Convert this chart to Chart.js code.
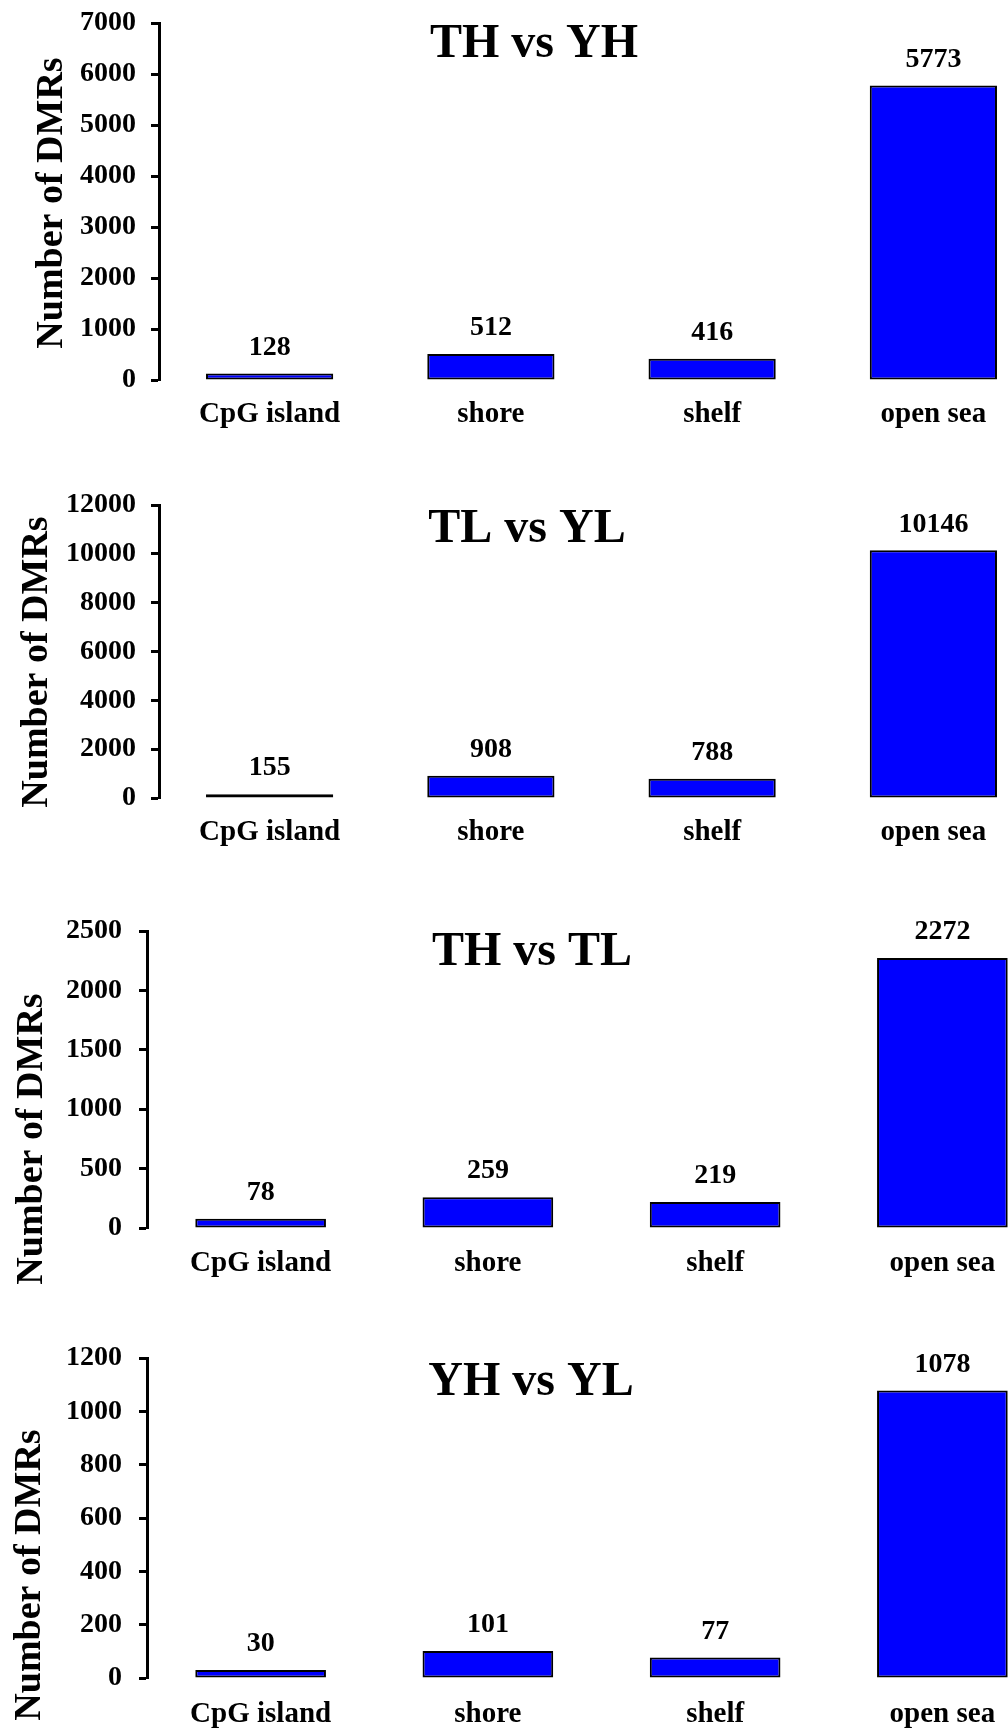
<!DOCTYPE html>
<html>
<head>
<meta charset="utf-8">
<script src="https://cdn.jsdelivr.net/npm/chart.js@4.4.1/dist/chart.umd.min.js"></script>
<style>
    html, body { margin: 0; padding: 0; background: #fff; overflow: hidden; }
    #wrap { position: relative; width: 1008px; height: 1732px; overflow: hidden; background: #fff; }
    canvas { position: absolute; left: 0; }
</style>
</head>
<body>
<div id="wrap">
    <canvas id="c1"></canvas>
    <canvas id="c2"></canvas>
    <canvas id="c3"></canvas>
    <canvas id="c4"></canvas>
</div>
<script>
// data
var categories = ['CpG island', 'shore', 'shelf', 'open sea'];
var thVsYh = [128, 512, 416, 5773];
var tlVsYl = [155, 908, 788, 10146];
var thVsTl = [78, 259, 219, 2272];
var yhVsYl = [30, 101, 77, 1078];
var panelTitles = ['TH vs YH', 'TL vs YL', 'TH vs TL', 'YH vs YL'];
var seriesList = [thVsYh, tlVsYl, thVsTl, yhVsYl];
var yMaxList = [7000, 12000, 2500, 1200];
var yStepList = [1000, 2000, 500, 200];
var yAxisTitle = 'Number of DMRs';

var FONT = "'Liberation Serif', 'Times New Roman', serif";
var CANVAS_W = 1060;

// layout of each panel (pixels, relative to panel top)
var panels = [
    { id: 'c1', top: 0,    height: 440, left: 159, right: 1044, plotTop: 23, plotBottom: 380, xPad: 17, tickPad: 15, titleX: 534, titleY: 57,  yTitleX: 62, yTitleY: 203 },
    { id: 'c2', top: 440,  height: 420, left: 159, right: 1044, plotTop: 65, plotBottom: 358, xPad: 17, tickPad: 15, titleX: 527, titleY: 102, yTitleX: 47, yTitleY: 222 },
    { id: 'c3', top: 860,  height: 430, left: 147, right: 1056, plotTop: 71, plotBottom: 368, xPad: 18, tickPad: 17, titleX: 532, titleY: 105, yTitleX: 42, yTitleY: 279 },
    { id: 'c4', top: 1290, height: 442, left: 147, right: 1056, plotTop: 68, plotBottom: 388, xPad: 19, tickPad: 17, titleX: 531, titleY: 105, yTitleX: 40, yTitleY: 285 }
];

// value labels above bars
var valueLabels = {
    id: 'valueLabels',
    afterDatasetsDraw: function (chart) {
        var ctx = chart.ctx;
        var meta = chart.getDatasetMeta(0);
        var data = chart.data.datasets[0].data;
        ctx.save();
        ctx.font = 'bold 28px ' + FONT;
        ctx.fillStyle = '#000';
        ctx.textAlign = 'center';
        ctx.textBaseline = 'middle';
        meta.data.forEach(function (bar, i) {
            ctx.fillText(String(data[i]), bar.x, bar.y - 26);
        });
        ctx.restore();
    }
};

// panel title and rotated y title
var panelText = {
    id: 'panelText',
    afterDraw: function (chart, args, opts) {
        var ctx = chart.ctx;
        ctx.save();
        ctx.fillStyle = '#000';
        ctx.textAlign = 'center';
        ctx.textBaseline = 'alphabetic';
        ctx.font = 'bold 48px ' + FONT;
        ctx.fillText(opts.title, opts.titleX, opts.titleY);

        ctx.translate(opts.yTitleX, opts.yTitleY);
        ctx.rotate(-Math.PI / 2);
        ctx.font = 'bold 38px ' + FONT;
        ctx.fillText(opts.yTitle, 0, 0);
        ctx.restore();
    }
};

panels.forEach(function (p, k) {
    var canvas = document.getElementById(p.id);
    canvas.width = CANVAS_W;
    canvas.height = p.height;
    canvas.style.top = p.top + 'px';
    canvas.style.width = CANVAS_W + 'px';
    canvas.style.height = p.height + 'px';

    new Chart(canvas.getContext('2d'), {
        type: 'bar',
        data: {
            labels: categories,
            datasets: [{
                data: seriesList[k],
                backgroundColor: '#0000FF',
                borderColor: '#000',
                borderWidth: 2,
                borderSkipped: false,
                categoryPercentage: 1,
                barPercentage: 0.575
            }]
        },
        options: {
            responsive: false,
            animation: false,
            devicePixelRatio: 1,
            layout: {
                padding: { top: p.plotTop, bottom: 0, left: 0, right: CANVAS_W - p.right }
            },
            plugins: {
                legend: { display: false },
                tooltip: { enabled: false },
                panelText: {
                    title: panelTitles[k],
                    titleX: p.titleX,
                    titleY: p.titleY,
                    yTitle: yAxisTitle,
                    yTitleX: p.yTitleX,
                    yTitleY: p.yTitleY
                }
            },
            scales: {
                x: {
                    grid: { display: false, drawTicks: false },
                    border: { display: false },
                    ticks: {
                        color: '#000',
                        padding: p.xPad,
                        maxRotation: 0,
                        font: { family: FONT, size: 29, weight: 'bold' }
                    },
                    afterFit: function (scale) { scale.height = p.height - p.plotBottom; }
                },
                y: {
                    min: 0,
                    max: yMaxList[k],
                    grid: {
                        display: true,
                        drawOnChartArea: false,
                        drawTicks: true,
                        tickLength: 8,
                        tickWidth: 3,
                        tickColor: '#000'
                    },
                    border: { display: true, color: '#000', width: 3 },
                    ticks: {
                        stepSize: yStepList[k],
                        color: '#000',
                        padding: p.tickPad,
                        font: { family: FONT, size: 28, weight: 'bold' },
                        callback: function (value) { return String(value); }
                    },
                    afterFit: function (scale) {
                        scale.width = p.left;
                        scale.paddingTop = 0;
                        scale.paddingBottom = 0;
                    }
                }
            }
        },
        plugins: [valueLabels, panelText]
    });
});
</script>
</body>
</html>
